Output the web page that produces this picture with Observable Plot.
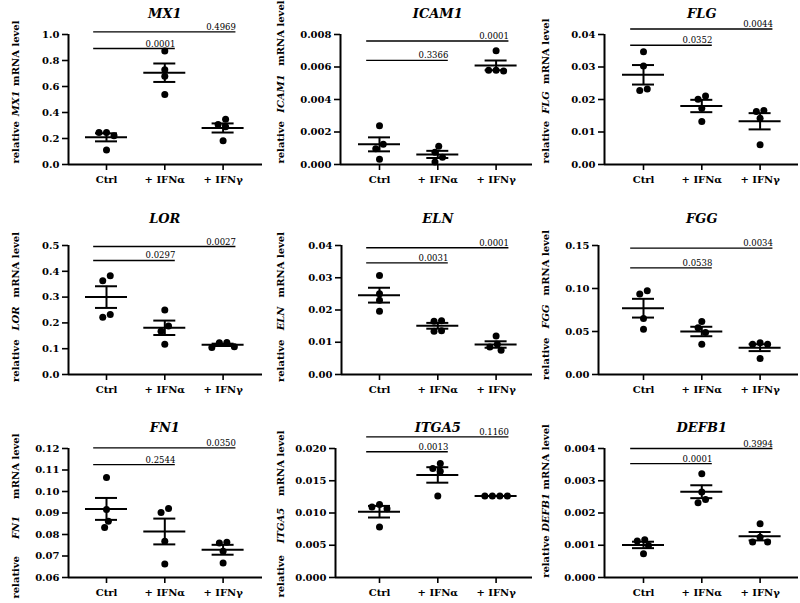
<!DOCTYPE html>
<html><head><meta charset="utf-8">
<script src="https://cdn.jsdelivr.net/npm/d3@7"></script>
<script src="https://cdn.jsdelivr.net/npm/@observablehq/plot@0.6"></script>
<style>
body{margin:0;background:#fff;}
#fig{position:relative;width:800px;height:603px;background:#fff;overflow:hidden;}
#fig svg{position:absolute;}
</style></head><body><div id="fig"></div>
<script>
// ---------- data ----------
const groups = ["Ctrl", "+ IFNα", "+ IFNγ"];
const genes = ["MX1","ICAM1","FLG","LOR","ELN","FGG","FN1","ITGA5","DEFB1"];

// replicate values per gene, one list per group (Ctrl, +IFNα, +IFNγ)
const valuesMX1   = [[0.247,0.222,0.247,0.111],[0.874,0.729,0.678,0.539],[0.307,0.291,0.348,0.183]];
const valuesICAM1 = [[0.00239,0.00124,0.00097,0.00033],[0.00112,0.00075,0.00045,0.00015],[0.0070,0.00575,0.0058,0.0058]];
const valuesFLG   = [[0.0347,0.0303,0.0228,0.0232],[0.0201,0.0211,0.0173,0.0132],[0.0163,0.0166,0.0142,0.0061]];
const valuesLOR   = [[0.383,0.363,0.2215,0.233],[0.25,0.188,0.168,0.117],[0.123,0.105,0.1075,0.124]];
const valuesELN   = [[0.0307,0.02505,0.023,0.0196],[0.0167,0.0165,0.0136,0.0134],[0.01196,0.00938,0.00856,0.00753]];
const valuesFGG   = [[0.0935,0.0974,0.065,0.0526],[0.0616,0.0545,0.0487,0.0351],[0.0351,0.0351,0.037,0.0187]];
const valuesFN1   = [[0.1065,0.0916,0.0862,0.0832],[0.0902,0.0921,0.0769,0.0663],[0.0761,0.0764,0.0722,0.0667]];
const valuesITGA5 = [[0.01093,0.01067,0.0113,0.00782],[0.01689,0.01648,0.01767,0.01264],[0.01264,0.01264,0.01264,0.01264]];
const valuesDEFB1 = [[0.00113,0.00117,0.000995,0.000736],[0.00322,0.00265,0.00242,0.00232],[0.00167,0.00125,0.0011,0.0011]];

// mean and SEM per gene (Ctrl, +IFNα, +IFNγ)
const meanMX1 = [0.209,0.706,0.281],      semMX1 = [0.031,0.071,0.035];
const meanICAM1 = [0.00124,0.00062,0.0061], semICAM1 = [0.00043,0.00022,0.0003];
const meanFLG = [0.0276,0.018,0.0133],     semFLG = [0.003,0.0019,0.0025];
const meanLOR = [0.300,0.181,0.115],       semLOR = [0.042,0.028,0.0045];
const meanELN = [0.0246,0.0151,0.0093],    semELN = [0.0023,0.0009,0.001];
const meanFGG = [0.0771,0.050,0.0312],     semFGG = [0.0109,0.0055,0.004];
const meanFN1 = [0.0919,0.0814,0.0729],    semFN1 = [0.0051,0.006,0.0023];
const meanITGA5 = [0.0102,0.0159,0.01264], semITGA5 = [0.0009,0.0012,0];
const meanDEFB1 = [0.00101,0.00266,0.00128], semDEFB1 = [0.0001,0.0002,0.00013];

// y-axis tick values per gene
const ticksMX1 = [0,0.2,0.4,0.6,0.8,1.0];
const ticksICAM1 = [0,0.002,0.004,0.006,0.008];
const ticksFLG = [0,0.01,0.02,0.03,0.04];
const ticksLOR = [0,0.1,0.2,0.3,0.4,0.5];
const ticksELN = [0,0.01,0.02,0.03,0.04];
const ticksFGG = [0,0.05,0.10,0.15];
const ticksFN1 = [0.06,0.07,0.08,0.09,0.10,0.11,0.12];
const ticksITGA5 = [0,0.005,0.010,0.015,0.020];
const ticksDEFB1 = [0,0.001,0.002,0.003,0.004];
const tickDecimals = [1,3,2,1,2,2,2,3,3];

// comparisons: Ctrl vs +IFNα (short) and Ctrl vs +IFNγ (long): p-values and bracket levels
const pCtrlVsIFNa = ["0.0001","0.3366","0.0352","0.0297","0.0031","0.0538","0.2544","0.0013","0.0001"];
const pCtrlVsIFNg = ["0.4969","0.0001","0.0044","0.0027","0.0001","0.0034","0.0350","0.1160","0.3994"];
const levelIFNa = [0.892,0.00641,0.0367,0.442,0.0346,0.124,0.1125,0.0195,0.00353];
const levelIFNg = [1.02,0.0076,0.0417,0.496,0.0393,0.147,0.1203,0.0218,0.0040];

const allValues = [valuesMX1,valuesICAM1,valuesFLG,valuesLOR,valuesELN,valuesFGG,valuesFN1,valuesITGA5,valuesDEFB1];
const allMeans = [meanMX1,meanICAM1,meanFLG,meanLOR,meanELN,meanFGG,meanFN1,meanITGA5,meanDEFB1];
const allSems = [semMX1,semICAM1,semFLG,semLOR,semELN,semFGG,semFN1,semITGA5,semDEFB1];
const allTicks = [ticksMX1,ticksICAM1,ticksFLG,ticksLOR,ticksELN,ticksFGG,ticksFN1,ticksITGA5,ticksDEFB1];

// ---------- layout ----------
const W = 270, H = 208, STEP = 58.3;
const COLS = [{x0:0,cat0:106,right:262},{x0:265,cat0:114,right:267},{x0:530,cat0:113,right:268}];
const ROWS = [{y0:0,top:34,bot:164,title:21},{y0:195,top:50,bot:179,title:27},{y0:395,top:53,bot:182,title:21}];
const AXIS_X = [68,75,74,68,76,68,68,70,74];
const LABEL_Y = [92,82,91,112,112,110,121,119,106];
const LABEL_LEN = [143,163,145,150,150,150,165,167,152];
const DIAM = 6.8, MEAN_HALF = 21, CAP_HALF = 11;
const FONT = "'DejaVu Serif', 'Liberation Serif', serif";

function swarm(vals, toPx) {
  const n = vals.length, h = 3.75;
  const cands = [0]; for (let k = 1; k <= 8; k++) cands.push(-k*h, k*h);
  const order = d3.range(n).sort((a,b) => vals[b]-vals[a] || a-b);
  const placed = [], off = new Array(n), py = vals.map(toPx);
  for (const i of order) {
    let chosen = cands[cands.length-1];
    for (const c of cands) {
      if (placed.every(p => Math.hypot(p.x-c, p.y-py[i]) >= DIAM-0.2)) { chosen = c; break; }
    }
    off[i] = chosen; placed.push({x: chosen, y: py[i]});
  }
  // centre each chain of overlapping points
  const byY = d3.range(n).sort((a,b) => py[a]-py[b]);
  let comp = [byY[0]];
  const flush = () => { const m = d3.mean(comp, i => off[i]); comp.forEach(i => off[i] -= m); };
  for (let k = 1; k < n; k++) {
    if (py[byY[k]] - py[byY[k-1]] < DIAM) comp.push(byY[k]);
    else { flush(); comp = [byY[k]]; }
  }
  flush();
  return off;
}

const fig = document.getElementById("fig");
const labels = [];

genes.forEach((gene, k) => {
  const col = COLS[k % 3], row = ROWS[Math.floor(k / 3)];
  const ticks = allTicks[k];
  const ymin = ticks[0], ymax = ticks[ticks.length-1];
  const axisX = AXIS_X[k];
  const xd = [(axisX - col.cat0)/STEP, (col.right - col.cat0)/STEP];
  const toPx = d3.scaleLinear([ymin, ymax], [0, row.bot - row.top]);

  const dots = [];
  allValues[k].forEach((vals, g) => {
    const offs = swarm(vals, toPx);
    vals.forEach((v, i) => dots.push({x: g + offs[i]/STEP, v}));
  });
  const stats = groups.map((name, g) => ({g, m: allMeans[k][g], lo: allMeans[k][g]-allSems[k][g], hi: allMeans[k][g]+allSems[k][g]}));
  const brackets = [
    {x1: -0.22, x2: 1.18, y: levelIFNa[k], p: pCtrlVsIFNa[k]},
    {x1: -0.22, x2: 2.22, y: levelIFNg[k], p: pCtrlVsIFNg[k]}
  ];
  const mh = MEAN_HALF/STEP, ch = CAP_HALF/STEP;

  const svg = Plot.plot({
    width: W, height: H,
    marginLeft: axisX, marginRight: W - col.right,
    marginTop: row.top, marginBottom: H - row.bot,
    style: {background: "transparent", overflow: "visible", fontFamily: FONT, fontWeight: "bold", fontSize: "10px", color: "black"},
    x: {type: "linear", domain: xd},
    y: {domain: [ymin, ymax]},
    marks: [
      Plot.axisY({ticks, tickFormat: d3.format(`.${tickDecimals[k]}f`), tickSize: 6, tickPadding: 3, strokeWidth: 1.6, label: null}),
      Plot.axisX({ticks: [0,1,2], tickFormat: i => groups[i], tickSize: 6, tickPadding: 5, strokeWidth: 1.6, label: null}),
      Plot.ruleX([xd[0]], {y1: ymin, y2: ymax, strokeWidth: 2}),
      Plot.ruleY([ymin], {strokeWidth: 2}),
      Plot.ruleY(brackets, {y: "y", x1: "x1", x2: "x2", strokeWidth: 1.4}),
      Plot.text(brackets, {x: "x2", y: "y", text: "p", textAnchor: "end", lineAnchor: "bottom", dy: -2, fontWeight: "normal", fontSize: 8.5}),
      Plot.ruleY(stats, {y: "m", x1: d => d.g - mh, x2: d => d.g + mh, strokeWidth: 2}),
      Plot.ruleY(stats, {y: "hi", x1: d => d.g - ch, x2: d => d.g + ch, strokeWidth: 2}),
      Plot.ruleY(stats, {y: "lo", x1: d => d.g - ch, x2: d => d.g + ch, strokeWidth: 2}),
      Plot.ruleX(stats, {x: "g", y1: "lo", y2: "hi", strokeWidth: 2}),
      Plot.dot(dots, {x: "x", y: "v", r: 3.5, fill: "black", stroke: null}),
      Plot.text([gene], {x: 1, y: ymax, dy: -row.title, text: d => d, fontStyle: "italic", fontSize: 13})
    ]
  });
  svg.style.left = col.x0 + "px";
  svg.style.top = row.y0 + "px";

  const lab = d3.select(svg).append("text")
    .attr("transform", `translate(15,${LABEL_Y[k]}) rotate(-90)`)
    .attr("text-anchor", "middle").attr("dy", "0.35em")
    .attr("font-size", 10).attr("font-weight", "bold").attr("font-family", FONT)
    .style("white-space", "normal");
  lab.append("tspan").text("relative");
  const t2 = lab.append("tspan").attr("font-style", "italic").text("\u00a0" + gene);
  const t3 = lab.append("tspan").text("\u00a0mRNA level");
  labels.push({node: lab.node(), len: LABEL_LEN[k], t2, t3});
  fig.appendChild(svg);
});

labels.forEach(({node, len, t2, t3}) => {
  const nat = node.getComputedTextLength();
  const gap = Math.max(0, (len - nat) / 2);
  t2.attr("dx", gap.toFixed(1));
  t3.attr("dx", gap.toFixed(1));
});
</script></body></html>
